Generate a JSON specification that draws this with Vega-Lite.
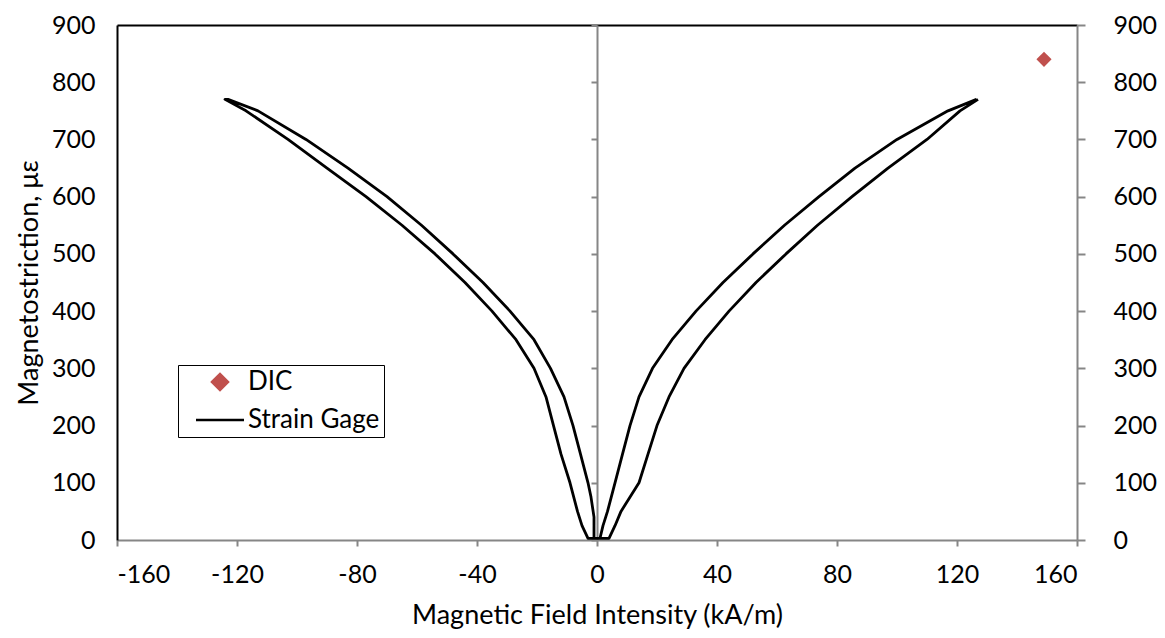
{
  "$schema": "https://vega.github.io/schema/vega-lite/v6.json",
  "autosize": {"type": "none"},
  "padding": {"left": 117, "top": 25, "right": 88, "bottom": 98},
  "width": 960,
  "height": 515,
  "background": "white",
  "config": {
    "view": {"stroke": null},
    "font": "Lato",
    "axis": {"grid": false, "labelFont": "Lato", "titleFont": "Lato", "labelColor": "black", "titleColor": "black", "titleFontWeight": "normal", "labelFontSize": 25, "titleFontSize": 27}
  },
  "datasets": {
    "gage": [
      {"i": 1, "H": 126.5, "L": 770}, {"i": 2, "H": 117, "L": 750}, {"i": 3, "H": 100, "L": 700}, {"i": 4, "H": 86, "L": 650},
      {"i": 5, "H": 74, "L": 600}, {"i": 6, "H": 62.5, "L": 550}, {"i": 7, "H": 52, "L": 500}, {"i": 8, "H": 42, "L": 450},
      {"i": 9, "H": 33, "L": 400}, {"i": 10, "H": 25, "L": 350}, {"i": 11, "H": 18.5, "L": 300}, {"i": 12, "H": 14, "L": 250},
      {"i": 13, "H": 11, "L": 200}, {"i": 14, "H": 8.5, "L": 150}, {"i": 15, "H": 6, "L": 100}, {"i": 16, "H": 3.5, "L": 50},
      {"i": 17, "H": 2, "L": 25}, {"i": 18, "H": 1, "L": 3},
      {"i": 19, "H": -3, "L": 3}, {"i": 20, "H": -5, "L": 25}, {"i": 21, "H": -6.5, "L": 50}, {"i": 22, "H": -9, "L": 100},
      {"i": 23, "H": -12, "L": 150}, {"i": 24, "H": -14.5, "L": 200}, {"i": 25, "H": -17, "L": 250}, {"i": 26, "H": -21, "L": 300},
      {"i": 27, "H": -27, "L": 350}, {"i": 28, "H": -35, "L": 400}, {"i": 29, "H": -44, "L": 450}, {"i": 30, "H": -54, "L": 500},
      {"i": 31, "H": -65, "L": 550}, {"i": 32, "H": -77, "L": 600}, {"i": 33, "H": -90, "L": 650}, {"i": 34, "H": -103, "L": 700},
      {"i": 35, "H": -117, "L": 750}, {"i": 36, "H": -124, "L": 770},
      {"i": 37, "H": -123, "L": 770}, {"i": 38, "H": -113, "L": 750}, {"i": 39, "H": -97, "L": 700}, {"i": 40, "H": -83, "L": 650},
      {"i": 41, "H": -70, "L": 600}, {"i": 42, "H": -58.5, "L": 550}, {"i": 43, "H": -48, "L": 500}, {"i": 44, "H": -38, "L": 450},
      {"i": 45, "H": -29, "L": 400}, {"i": 46, "H": -21, "L": 350}, {"i": 47, "H": -15.5, "L": 300}, {"i": 48, "H": -11, "L": 250},
      {"i": 49, "H": -8, "L": 200}, {"i": 50, "H": -5.5, "L": 150}, {"i": 51, "H": -3, "L": 100}, {"i": 52, "H": -2, "L": 75},
      {"i": 53, "H": -1, "L": 40}, {"i": 54, "H": -1, "L": 3},
      {"i": 55, "H": 4, "L": 3}, {"i": 56, "H": 6, "L": 25}, {"i": 57, "H": 8, "L": 50}, {"i": 58, "H": 14, "L": 100},
      {"i": 59, "H": 17, "L": 150}, {"i": 60, "H": 20, "L": 200}, {"i": 61, "H": 24, "L": 250}, {"i": 62, "H": 29, "L": 300},
      {"i": 63, "H": 36, "L": 350}, {"i": 64, "H": 44, "L": 400}, {"i": 65, "H": 53, "L": 450}, {"i": 66, "H": 63, "L": 500},
      {"i": 67, "H": 73.5, "L": 550}, {"i": 68, "H": 85, "L": 600}, {"i": 69, "H": 97, "L": 650}, {"i": 70, "H": 110, "L": 700},
      {"i": 71, "H": 121, "L": 750}, {"i": 72, "H": 127, "L": 770}
    ],
    "dic": [{"H": 149, "L": 840, "series": "DIC"}]
  },
  "resolve": {"axis": {"x": "independent", "y": "independent"}},
  "layer": [
    {
      "data": {"name": "gage"},
      "transform": [{"calculate": "'Strain Gage'", "as": "series"}],
      "mark": {"type": "line", "strokeWidth": 2.8, "strokeJoin": "round"},
      "encoding": {
        "x": {"field": "H", "type": "quantitative", "scale": {"domain": [-160, 160], "nice": false},
          "axis": {"orient": "bottom", "values": [-160, -120, -80, -40, 0, 40, 80, 120, 160], "labelExpr": "datum.value < 0 ? '-' + abs(datum.value) : '' + datum.value", "domainColor": "#868686", "domainWidth": 2, "tickColor": "#868686", "tickWidth": 2, "tickSize": 6, "labelPadding": 16, "title": "Magnetic Field Intensity (kA/m)", "titlePadding": 15}},
        "y": {"field": "L", "type": "quantitative", "scale": {"domain": [0, 900], "nice": false},
          "axis": {"orient": "left", "values": [0, 100, 200, 300, 400, 500, 600, 700, 800, 900], "domainColor": "black", "domainWidth": 2, "ticks": false, "tickSize": 0, "labelPadding": 22, "title": "Magnetostriction, με", "titlePadding": 8}},
        "order": {"field": "i", "type": "quantitative"},
        "color": {"field": "series", "type": "nominal", "scale": {"domain": ["DIC", "Strain Gage"], "range": ["#C0504D", "black"]},
          "legend": {"title": null, "orient": "none", "legendX": 61, "legendY": 340, "padding": 4, "strokeColor": "black", "fillColor": "white",
            "labelFontSize": 26, "labelFont": "Lato", "labelColor": "black", "symbolSize": 256, "symbolOffset": 25, "labelOffset": 15, "rowPadding": 12,
            "encode": {"symbols": {"update": {
              "shape": {"signal": "datum.value === 'DIC' ? 'diamond' : 'M-3,0H3'"},
              "fill": {"signal": "datum.value === 'DIC' ? '#C0504D' : 'transparent'"},
              "stroke": {"signal": "datum.value === 'DIC' ? 'transparent' : 'black'"},
              "strokeWidth": {"value": 2.5},
              "opacity": {"value": 1}
            }}}}}
      }
    },
    {
      "data": {"name": "dic"},
      "mark": {"type": "point", "shape": "diamond", "filled": true, "size": 230, "opacity": 1},
      "encoding": {
        "x": {"field": "H", "type": "quantitative", "scale": {"domain": [-160, 160], "nice": false},
          "axis": {"orient": "top", "domainColor": "black", "domainWidth": 2, "ticks": false, "labels": false, "title": null}},
        "y": {"field": "L", "type": "quantitative", "scale": {"domain": [0, 900], "nice": false},
          "axis": {"orient": "right", "values": [0, 100, 200, 300, 400, 500, 600, 700, 800, 900], "domainColor": "#868686", "domainWidth": 2, "tickColor": "#868686", "tickWidth": 2, "tickSize": 8, "labelPadding": 28, "title": null}},
        "color": {"field": "series", "type": "nominal"}
      }
    },
    {
      "data": {"name": "dic"},
      "mark": {"type": "point", "opacity": 0},
      "encoding": {
        "x": {"field": "H", "type": "quantitative", "axis": null},
        "y": {"field": "L", "type": "quantitative",
          "axis": {"orient": "left", "offset": -480, "values": [0, 100, 200, 300, 400, 500, 600, 700, 800, 900], "domainColor": "#868686", "domainWidth": 2, "tickColor": "#868686", "tickWidth": 2, "tickSize": 6, "labels": false, "title": null}}
      }
    }
  ]
}
